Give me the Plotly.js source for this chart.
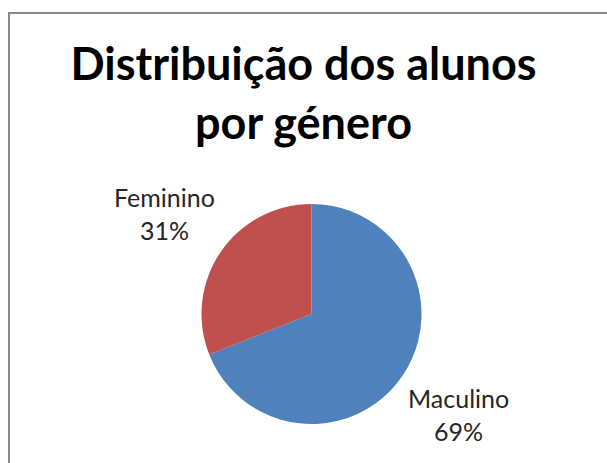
<!DOCTYPE html>
<html>
<head>
<meta charset="utf-8">
<script src="https://cdn.plot.ly/plotly-3.0.1.min.js"></script>
<style>
  html, body { margin: 0; padding: 0; background: #ffffff; }
  #wrap { position: relative; width: 607px; height: 463px; overflow: hidden; }
  #chart { position: absolute; left: 0; top: 0; width: 607px; height: 463px; }
  #frame { position: absolute; left: 8px; top: 12px; width: 700px; height: 600px;
           border-left: 2px solid #8a8a8a; border-top: 2px solid #8a8a8a; pointer-events: none; }
</style>
</head>
<body>
<div id="wrap">
  <div id="chart"></div>
  <div id="frame"></div>
</div>
<script>
// Data
const categories = ["Maculino", "Feminino"];
const values = [69, 31];
const colors = ["#4F81BD", "#C0504D"];
const chartTitle = "Distribuição dos alunos<br>por género";

// Pie geometry (pixels in the 607x463 page)
const W = 607, H = 463;
const cx = 311.5, cy = 314, R = 110;
const labelDist = 1.62;

const total = values.reduce((a, b) => a + b, 0);
const annotations = [];
let acc = 0;
values.forEach((v, i) => {
  const mid = (acc + v / 2) / total * 2 * Math.PI; // clockwise from 12 o'clock
  acc += v;
  const px = cx + labelDist * R * Math.sin(mid);
  const py = cy - labelDist * R * Math.cos(mid);
  annotations.push({
    xref: "paper", yref: "paper",
    x: px / W, y: 1 - py / H,
    xanchor: "center", yanchor: "middle",
    showarrow: false,
    align: "center",
    text: categories[i] + "<br>" + Math.round(v / total * 100) + "%",
    font: { family: "Lato, 'Open Sans', sans-serif", size: 25, color: "#262626" }
  });
});

const trace = {
  type: "pie",
  labels: categories,
  values: values,
  sort: false,
  direction: "clockwise",
  rotation: 0,
  textinfo: "none",
  hoverinfo: "label+percent",
  marker: { colors: colors, line: { width: 0 } },
  domain: {
    x: [(cx - R) / W, (cx + R) / W],
    y: [1 - (cy + R) / H, 1 - (cy - R) / H]
  },
  showlegend: false
};

const layout = {
  width: W, height: H,
  margin: { l: 0, r: 0, t: 0, b: 0 },
  paper_bgcolor: "#ffffff",
  plot_bgcolor: "#ffffff",
  title: {
    text: "<b>" + chartTitle + "</b>",
    x: 0.5, xanchor: "center",
    y: 1 - 80 / H, yanchor: "top", yref: "container",
    font: { family: "Lato, 'Open Sans', sans-serif", size: 45, color: "#000000" }
  },
  annotations: annotations,
  showlegend: false
};

Plotly.newPlot("chart", [trace], layout, { displayModeBar: false, staticPlot: true });
</script>
</body>
</html>
